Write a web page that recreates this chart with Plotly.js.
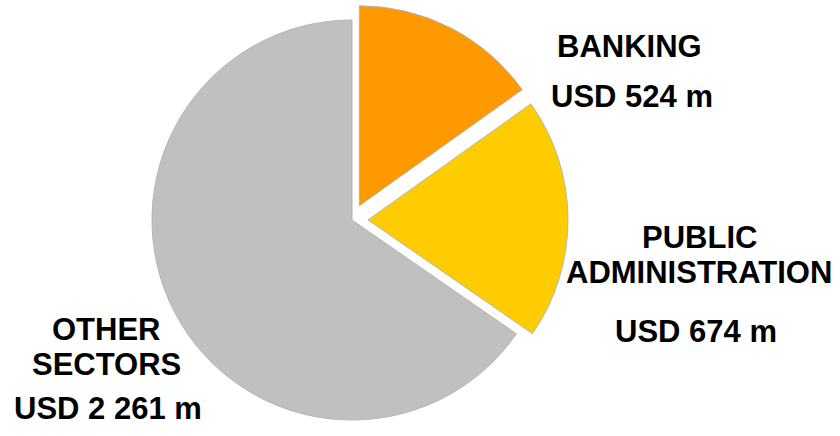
<!DOCTYPE html>
<html>
<head>
<meta charset="utf-8">
<script src="https://cdn.plot.ly/plotly-3.0.1.min.js"></script>
<style>html,body{margin:0;padding:0;background:#fff;}#chart{width:840px;height:436px;}</style>
</head>
<body>
<div id="chart"></div>
<script>
var categories = ['BANKING', 'PUBLIC<br>ADMINISTRATION', 'OTHER<br>SECTORS'];
var valuesUSDm = [524, 674, 2261];
var valueLabels = ['USD 524 m', 'USD 674 m', 'USD 2 261 m'];
var sliceColors = ['#FF9900', '#FFCC00', '#C0C0C0'];
var slicePull = [0.08, 0.08, 0];

// label layout (pixel centres of each text line)
var labelPos = [
  {x: 629, ys: [47], vx: 632, vy: 97},
  {x: 699, ys: [237, 272], vx: 696, vy: 331},
  {x: 106, ys: [329, 364], vx: 108, vy: 408}
];

var W = 840, H = 436;
var FONT = {family: 'Liberation Sans, Arial, sans-serif', size: 31, color: '#000', weight: 'bold'};
var annotations = [];
categories.forEach(function (c, i) {
  var lines = c.split('<br>');
  lines.forEach(function (ln, j) {
    annotations.push({
      text: ln, xref: 'paper', yref: 'paper',
      x: labelPos[i].x / W, y: 1 - labelPos[i].ys[j] / H,
      xanchor: 'center', yanchor: 'middle', showarrow: false,
      font: FONT
    });
  });
  annotations.push({
    text: valueLabels[i], xref: 'paper', yref: 'paper',
    x: labelPos[i].vx / W, y: 1 - labelPos[i].vy / H,
    xanchor: 'center', yanchor: 'middle', showarrow: false,
    font: FONT
  });
});

var trace = {
  type: 'pie',
  labels: categories,
  values: valuesUSDm,
  sort: false,
  direction: 'clockwise',
  rotation: 0,
  pull: slicePull,
  textinfo: 'none',
  hoverinfo: 'none',
  marker: {colors: sliceColors, line: {color: '#B5B5B5', width: 1}},
  domain: {x: [(352 - 216) / W, (352 + 216) / W], y: [0, 1 - 4 / H]},
  showlegend: false
};

var layout = {
  width: W, height: H,
  margin: {l: 0, r: 0, t: 0, b: 0},
  paper_bgcolor: '#fff',
  showlegend: false,
  annotations: annotations
};

Plotly.newPlot('chart', [trace], layout, {displayModeBar: false, staticPlot: true});
</script>
</body>
</html>
